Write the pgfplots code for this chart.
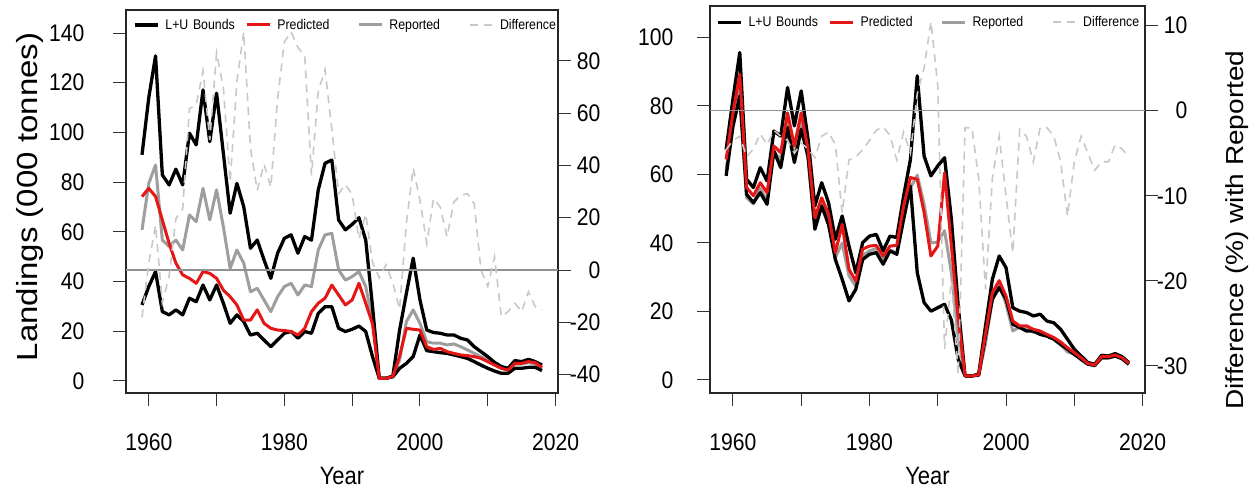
\documentclass[border=0pt]{standalone}
\usepackage{fontspec}
\setmainfont[FakeStretch=0.88]{Liberation Sans}
\newfontfamily\rotfont{Liberation Sans}
\usepackage{pgfplots}
\usepackage{pgfplotstable}
\pgfplotsset{compat=1.18}

\definecolor{predred}{RGB}{228,22,22}
\definecolor{repgray}{RGB}{158,158,158}
\definecolor{diffgray}{RGB}{200,200,200}
\definecolor{zerogray}{RGB}{145,145,145}

% year, upper bound, lower bound, predicted, reported, difference (%)
\pgfplotstableread{
year upper lower pred rep diff
1959 91.0 30.6 74.2 60.8 -18.1
1960 114.0 38.0 77.5 79.5 2.6
1961 130.8 44.0 74.2 86.9 17.1
1962 82.9 27.9 64.8 56.7 -12.5
1963 78.9 26.6 55.4 54.1 -2.3
1964 85.2 28.6 47.4 56.7 19.6
1965 78.9 26.6 42.7 52.7 23.4
1966 99.7 33.3 41.3 66.8 61.7
1967 95.0 31.9 39.3 64.1 63.1
1968 117.1 38.6 44.0 77.5 76.1
1969 96.3 32.6 43.3 64.8 49.7
1970 115.8 38.6 41.3 76.9 83.0
1971 91.6 31.3 36.6 62.1 69.7
1972 67.5 23.2 33.9 45.3 33.6
1973 79.5 26.6 30.6 52.7 72.2
1974 70.2 23.9 24.5 47.4 91.0
1975 53.4 18.5 24.5 35.9 46.5
1976 56.7 19.2 28.6 37.3 30.4
1977 48.7 16.5 23.2 32.6 40.5
1978 41.3 13.8 21.2 27.9 31.6
1979 51.4 16.5 20.5 33.9 65.4
1980 57.4 19.2 20.3 38.0 87.2
1981 58.8 19.9 19.9 39.3 91.0
1982 51.4 17.2 18.5 34.6 85.0
1983 58.1 19.9 21.2 38.6 82.0
1984 56.7 19.2 27.9 38.0 36.2
1985 76.9 27.2 31.3 52.7 68.4
1986 87.6 29.9 33.3 58.8 76.6
1987 88.9 29.9 38.6 59.4 53.9
1988 64.8 21.2 34.6 44.7 29.2
1989 60.8 19.9 30.6 40.6 32.7
1990 63.0 20.8 32.6 42.0 28.8
1991 65.7 22.1 39.3 44.0 12.0
1992 56.7 19.9 31.3 38.0 21.4
1993 30.0 9.8 23.0 24.0 3.0
1994 1.1 1.1 1.1 1.1 -3.0
1995 1.1 1.1 1.1 1.1 2.0
1996 2.0 1.7 1.8 1.7 -5.0
1997 20.5 5.1 10.0 8.5 -15.0
1998 35.3 7.1 21.2 23.9 18.0
1999 49.4 9.8 20.8 28.6 39.0
2000 32.6 18.5 20.5 23.2 26.7
2001 20.5 12.2 13.8 15.8 10.2
2002 19.5 11.8 12.7 15.2 27.3
2003 19.2 11.4 13.1 15.2 24.0
2004 18.5 11.1 11.8 14.5 12.7
2005 18.5 10.5 11.1 14.9 26.0
2006 17.2 9.8 10.5 13.8 28.6
2007 16.5 9.1 10.2 12.5 29.2
2008 13.8 7.8 9.8 11.1 25.4
2009 11.8 6.4 9.1 9.8 0.0
2010 9.8 5.1 7.8 8.5 -6.3
2011 7.5 4.0 6.4 6.8 5.0
2012 5.8 3.1 5.1 5.1 -17.8
2013 5.1 3.1 4.4 4.4 -15.9
2014 8.2 5.1 7.1 6.8 -12.7
2015 7.8 5.1 7.1 6.8 -15.9
2016 8.7 5.5 7.8 7.4 -8.3
2017 7.8 5.5 7.4 6.8 -14.0
2018 6.4 4.2 5.5 5.1 -15.2
}\tabA

\pgfplotstableread{
year upper lower pred rep diff
1959 67.3 59.6 64.4 61.4 -4.6
1960 82.0 74.0 78.0 75.3 -3.5
1961 95.6 82.9 89.2 86.5 -3.0
1962 58.6 54.2 56.2 53.2 -5.4
1963 56.2 51.8 53.8 51.4 -4.5
1964 62.0 54.7 57.6 56.0 -2.7
1965 58.1 51.3 54.7 52.5 -4.0
1966 72.7 66.9 68.3 66.7 -2.3
1967 71.2 62.0 66.4 64.4 -3.0
1968 85.4 73.7 78.0 75.3 -3.5
1969 74.2 63.5 68.3 64.9 -5.0
1970 84.4 73.2 78.0 75.0 -3.8
1971 70.3 65.4 67.3 64.3 -4.5
1972 50.8 44.0 47.4 44.8 -5.5
1973 57.6 50.8 53.2 51.6 -3.0
1974 51.8 45.4 48.4 47.2 -2.5
1975 41.1 35.2 37.2 35.7 -4.0
1976 47.9 29.4 45.4 40.0 -12.0
1977 39.1 23.1 32.3 30.4 -5.8
1978 31.3 26.5 28.9 27.3 -5.4
1979 40.1 35.2 38.2 36.4 -4.6
1980 42.0 36.7 39.1 37.7 -3.5
1981 42.5 37.2 39.3 38.4 -2.3
1982 37.7 33.8 36.2 35.5 -1.9
1983 42.0 37.7 39.1 38.0 -2.9
1984 41.6 36.7 39.3 37.0 -5.8
1985 53.7 46.9 50.8 49.5 -2.5
1986 64.4 56.6 59.1 56.1 -5.0
1987 88.8 31.3 58.6 59.8 2.0
1988 65.4 22.6 48.9 51.3 5.0
1989 59.6 20.1 36.2 40.0 10.5
1990 62.5 21.1 39.1 40.3 3.0
1991 64.9 22.1 60.5 43.6 -28.0
1992 46.9 17.5 39.1 31.3 -20.0
1993 21.6 6.0 18.0 12.4 -31.0
1994 1.2 1.2 1.2 1.2 -2.0
1995 1.2 1.2 1.2 1.2 -2.0
1996 1.7 1.4 1.5 1.4 -8.0
1997 15.8 12.8 13.5 10.7 -21.0
1998 29.4 23.6 25.5 23.5 -8.0
1999 36.2 27.0 29.0 28.1 -3.0
2000 32.8 23.6 24.5 22.1 -10.0
2001 21.1 16.3 17.2 14.3 -16.7
2002 20.1 15.3 15.8 15.5 -2.2
2003 19.7 14.3 15.8 15.3 -3.0
2004 18.7 14.3 14.8 13.9 -6.0
2005 19.2 13.3 14.3 14.0 -2.0
2006 17.2 12.8 13.3 13.0 -2.0
2007 16.7 11.9 12.4 12.0 -3.0
2008 14.8 10.4 11.1 10.4 -6.0
2009 11.9 9.0 9.4 8.2 -12.4
2010 9.0 7.5 8.0 7.5 -6.0
2011 7.0 6.0 6.5 6.3 -3.0
2012 5.1 4.6 4.8 4.6 -5.0
2013 4.6 4.3 4.4 4.1 -7.0
2014 7.2 6.5 6.8 6.4 -6.0
2015 7.0 6.5 6.8 6.4 -6.0
2016 7.7 7.0 7.3 7.0 -4.0
2017 6.8 6.2 6.5 6.2 -4.5
2018 5.1 4.6 4.9 4.6 -5.5
}\tabB

\pgfplotsset{
  rbase/.style={
    scale only axis,
    xmin=1956.64, xmax=2020.36,
    tick align=outside,
    major tick length=13pt,
    tick style={line width=1pt, black!80},
    axis line style={line width=1.3pt, black!85},
    ticklabel style={font=\fontsize{24}{28}\selectfont},
    /pgf/number format/assume math mode=true,
    /pgf/number format/1000 sep={},
    xlabel style={font=\fontsize{25}{29}\selectfont},
  },
  rmain/.style={
    rbase,
    xtick={1960,1970,...,2020},
    xticklabels={1960,,1980,,2000,,2020},
    xticklabel style={yshift=-24pt},
    xtick pos=bottom, ytick pos=left,
    yticklabel style={anchor=east},
    xlabel={Year},
  },
  rdiff/.style={
    rbase,
    axis x line=none,
    axis y line*=right,
    yticklabel style={anchor=east, xshift=33pt},
    legend style={draw=none, fill=none, legend columns=4,
      font=\fontsize{14}{16}\selectfont,
      inner xsep=0pt, inner ysep=0pt,
      nodes={inner xsep=0pt, inner ysep=1pt, text width=80pt, align=left},
      /tikz/every odd column/.append style={column sep=6pt}},
    legend cell align=left,
    legend image code/.code={\draw[#1] (0pt,0pt) -- (23pt,0pt);},
  },
  bnd/.style={black, line width=3.3pt, line join=round},
  prd/.style={predred, line width=3pt, line join=round},
  rpt/.style={repgray, line width=3pt, line join=round},
  dif/.style={diffgray, line width=1.6pt, dash pattern=on 8pt off 6pt},
}

\begin{document}
\begin{tikzpicture}[x=1pt,y=1pt]
\path[use as bounding box] (0,0) rectangle (1254,494);

% ---------- left panel ----------
\begin{axis}[rmain, at={(126pt,101pt)}, anchor=south west,
  width=432pt, height=383pt,
  ymin=-4.83, ymax=149.26, ytick={0,20,...,140},
  yticklabel={\pgfmathprintnumber{\tick}\hspace*{25pt}},
  ylabel={\rotfont Landings (000 tonnes)},
  ylabel style={font=\fontsize{33}{37}\selectfont, at={(axis description cs:-0.222,0.512)}, anchor=center, yscale=0.88},
  xlabel style={at={(axis description cs:0.5,-0.217)}, anchor=center}]
  \addplot[rpt] table[x=year,y=rep] {\tabA};
  \addplot[bnd] table[x=year,y=upper] {\tabA};
  \addplot[bnd] table[x=year,y=lower] {\tabA};
  \addplot[prd] table[x=year,y=pred] {\tabA};
\end{axis}
\begin{axis}[rdiff, at={(126pt,101pt)}, anchor=south west,
  width=432pt, height=383pt,
  ymin=-47.0, ymax=99.4, ytick={-40,-20,...,80},
  legend style={at={(axis description cs:0.016,0.961)}, anchor=west}]
  \addplot[zerogray, line width=1.3pt, forget plot] coordinates {(1956.64,0) (2020.36,0)};
  \addplot[dif, forget plot] table[x=year,y=diff] {\tabA};
  \addlegendimage{bnd}
  \addlegendentry{L+U Bounds}
  \addlegendimage{prd}
  \addlegendentry{Predicted}
  \addlegendimage{rpt}
  \addlegendentry{Reported}
  \addlegendimage{dif}
  \addlegendentry{Difference}
\end{axis}

% ---------- right panel ----------
\begin{axis}[rmain, at={(710pt,101pt)}, anchor=south west,
  width=435pt, height=387pt,
  ymin=-3.80, ymax=109.2, ytick={0,20,...,100},
  yticklabel={\pgfmathprintnumber{\tick}\hspace*{20pt}},
  xlabel style={at={(axis description cs:0.5,-0.215)}, anchor=center}]
  \addplot[rpt] table[x=year,y=rep] {\tabB};
  \addplot[bnd] table[x=year,y=upper] {\tabB};
  \addplot[bnd] table[x=year,y=lower] {\tabB};
  \addplot[prd] table[x=year,y=pred] {\tabB};
\end{axis}
\begin{axis}[rdiff, at={(710pt,101pt)}, anchor=south west,
  width=435pt, height=387pt,
  ymin=-33.2, ymax=12.32, ytick={-30,-20,...,10},
  ylabel={\rotfont Difference (\%) with Reported},
  ylabel style={font=\fontsize{28}{32}\selectfont, at={(axis description cs:1.211,0.421)}, anchor=center, rotate=0, yscale=0.88},
  legend style={at={(axis description cs:0.014,0.958)}, anchor=west}]
  \addplot[zerogray, line width=1.3pt, forget plot] coordinates {(1956.64,0) (2020.36,0)};
  \addplot[dif, forget plot] table[x=year,y=diff] {\tabB};
  \addlegendimage{bnd}
  \addlegendentry{L+U Bounds}
  \addlegendimage{prd}
  \addlegendentry{Predicted}
  \addlegendimage{rpt}
  \addlegendentry{Reported}
  \addlegendimage{dif}
  \addlegendentry{Difference}
\end{axis}
\end{tikzpicture}
\end{document}
